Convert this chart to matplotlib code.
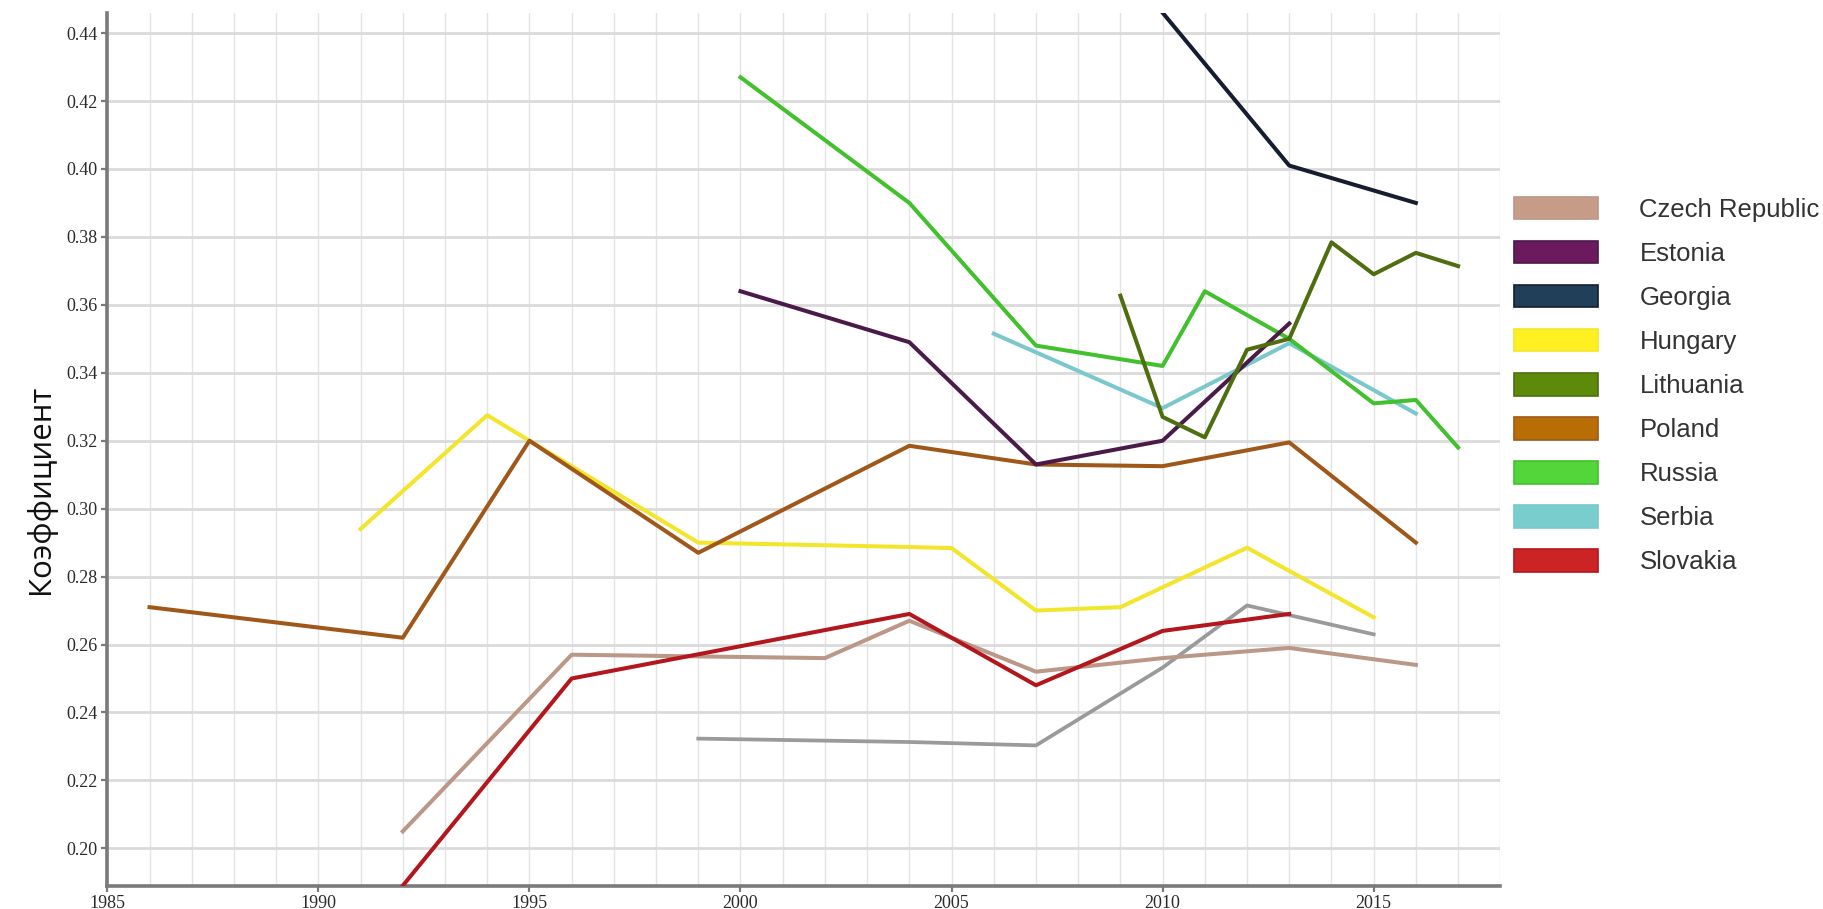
import matplotlib.pyplot as plt
from matplotlib.patches import Patch
from matplotlib.ticker import MultipleLocator

# values (year, coefficient)
czech_years = [1992, 1996, 2002, 2004, 2007, 2010, 2013, 2016]
czech_vals = [0.205, 0.257, 0.256, 0.267, 0.252, 0.256, 0.259, 0.254]

estonia_years = [2000, 2004, 2007, 2010, 2013]
estonia_vals = [0.364, 0.349, 0.313, 0.320, 0.3545]

georgia_years = [2010, 2013, 2016]
georgia_vals = [0.446, 0.401, 0.390]

hungary_years = [1991, 1994, 1995, 1999, 2004, 2005, 2007, 2009, 2012, 2015]
hungary_vals = [0.294, 0.3275, 0.320, 0.290, 0.2887, 0.2884, 0.270, 0.271, 0.2885, 0.268]

lithuania_years = [2009, 2010, 2011, 2012, 2013, 2014, 2015, 2016, 2017]
lithuania_vals = [0.3627, 0.327, 0.321, 0.3468, 0.350, 0.3784, 0.369, 0.3753, 0.3714]

poland_years = [1986, 1992, 1995, 1999, 2004, 2007, 2010, 2013, 2016]
poland_vals = [0.271, 0.262, 0.320, 0.287, 0.3185, 0.313, 0.3125, 0.3195, 0.290]

russia_years = [2000, 2004, 2007, 2010, 2011, 2013, 2015, 2016, 2017]
russia_vals = [0.427, 0.390, 0.348, 0.342, 0.364, 0.350, 0.331, 0.332, 0.318]

serbia_years = [2006, 2010, 2013, 2016]
serbia_vals = [0.3515, 0.3296, 0.3487, 0.328]

slovakia_years = [1992, 1996, 2004, 2007, 2010, 2013]
slovakia_vals = [0.189, 0.250, 0.269, 0.248, 0.264, 0.269]

# grey series has no legend entry
other_years = [1999, 2004, 2007, 2010, 2012, 2015]
other_vals = [0.2323, 0.2313, 0.2303, 0.2532, 0.2715, 0.263]

countries = ["Czech Republic", "Estonia", "Georgia", "Hungary", "Lithuania",
             "Poland", "Russia", "Serbia", "Slovakia"]
patch_colors = ["#c69c88", "#6c1a5e", "#1f4058", "#fff021", "#5e8a0c",
                "#b96d05", "#52d63a", "#79cdcd", "#cc2424"]
line_colors = ["#bb9788", "#4a1a48", "#161d30", "#f2e52c", "#4e6e10",
               "#a0581a", "#43c02e", "#7ac8cc", "#b3161c"]

series = [
    (czech_years, czech_vals),
    (estonia_years, estonia_vals),
    (georgia_years, georgia_vals),
    (hungary_years, hungary_vals),
    (lithuania_years, lithuania_vals),
    (poland_years, poland_vals),
    (russia_years, russia_vals),
    (serbia_years, serbia_vals),
    (slovakia_years, slovakia_vals),
]
z_order = [3, 6, 6, 2, 7, 4, 5, 4, 5]


def main():
    fig = plt.figure(figsize=(18.24, 9.09), dpi=100)
    ax = fig.add_axes([107.3 / 1824, 23.3 / 909, (1500.3 - 107.3) / 1824, (885.7 - 12.7) / 909])

    ax.plot(other_years, other_vals, color="#9a9a9a", lw=2.7, zorder=3)
    for (yrs, vals), c, z in zip(series, line_colors, z_order):
        ax.plot(yrs, vals, color=c, lw=2.9, zorder=z)

    ax.set_xlim(1985, 2018)
    ax.set_ylim(0.189, 0.446)
    ax.set_xticks(range(1985, 2016, 5))
    ax.xaxis.set_minor_locator(MultipleLocator(1))
    ax.set_yticks([0.20, 0.22, 0.24, 0.26, 0.28, 0.30, 0.32, 0.34, 0.36, 0.38, 0.40, 0.42, 0.44])
    ax.set_yticklabels([f"{v:.2f}" for v in ax.get_yticks()])

    ax.grid(axis="x", which="both", color="#e4e4e4", lw=1.0)
    ax.grid(axis="y", which="major", color="#dadada", lw=2.0)
    ax.set_axisbelow(True)

    for s in ["top", "right"]:
        ax.spines[s].set_visible(False)
    for s in ["left", "bottom"]:
        ax.spines[s].set_color("#7a7a7a")
        ax.spines[s].set_linewidth(2.6)

    ax.tick_params(which="major", direction="out", length=4, width=1.6, color="#7a7a7a",
                   labelsize=13, labelcolor="#2a2a2a", pad=3)
    ax.tick_params(which="minor", length=0)
    for lab in ax.get_xticklabels() + ax.get_yticklabels():
        lab.set_family("Liberation Serif")

    fig.text(41 / 1824, 1 - 489 / 909, "Коэффициент", rotation=90, ha="center", va="center",
             fontsize=22.5, family="Open Sans", color="#111111")

    handles = [Patch(facecolor=pc, edgecolor=lc, lw=1.2) for pc, lc in zip(patch_colors, line_colors)]
    fig.legend(handles, countries, loc="upper left", bbox_to_anchor=(1514.3 / 1824, 1 - 196.7 / 909),
               frameon=False, borderpad=0, borderaxespad=0, handlelength=3.27, handleheight=0.97,
               handletextpad=1.6, labelspacing=0.74,
               prop={"family": "Liberation Sans", "size": 18.5}, labelcolor="#333333")

    fig.savefig("out.png", dpi=100)


main()
